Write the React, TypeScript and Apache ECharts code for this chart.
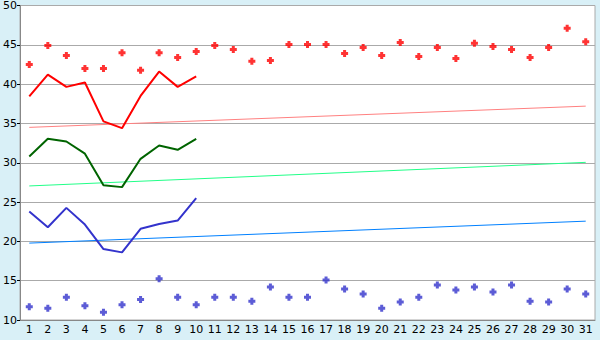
import React, { useEffect, useRef } from "react";
import * as echarts from "echarts";

const days = Array.from({ length: 31 }, (_, i) => String(i + 1));

const redPoints = [42.5, 44.9, 43.65, 42.0, 42.0, 44.0, 41.75, 44.0, 43.4, 44.15, 44.9, 44.4, 42.9, 43.0, 45.05, 45.05, 45.05, 43.9, 44.65, 43.65, 45.3, 43.5, 44.65, 43.25, 45.2, 44.8, 44.4, 43.4, 44.65, 47.1, 45.4];
const bluePoints = [11.7, 11.5, 12.9, 11.8, 11.0, 11.95, 12.6, 15.25, 12.9, 11.95, 12.9, 12.9, 12.4, 14.2, 12.9, 12.9, 15.1, 13.95, 13.3, 11.5, 12.3, 12.9, 14.45, 13.8, 14.2, 13.55, 14.45, 12.4, 12.3, 13.95, 13.3];
const redLine = [38.45, 41.2, 39.65, 40.2, 35.27, 34.4, 38.5, 41.6, 39.65, 41.0];
const greenLine = [30.8, 33.05, 32.7, 31.15, 27.14, 26.9, 30.5, 32.2, 31.65, 33.05];
const blueLine = [23.8, 21.8, 24.26, 22.14, 19.02, 18.6, 21.6, 22.2, 22.65, 25.5];
const redTrend = [34.5, 37.2];
const greenTrend = [27.05, 30.05];
const blueTrend = [19.78, 22.57];
const yTicks = { min: 10, max: 50, interval: 5 };

const plus = "path://M2,0H5V2H7V5H5V7H2V5H0V2H2Z";

export default function App() {
  const ref = useRef<HTMLDivElement>(null);
  useEffect(() => {
    document.body.style.margin = "0";
    const chart = echarts.init(ref.current!, undefined, { renderer: "svg" });
    const font = "Verdana, 'DejaVu Sans', sans-serif";
    const trend = (vals: number[], color: string) => ({
      type: "line",
      data: [[0, vals[0]], [days.length - 1, vals[1]]],
      symbol: "none",
      lineStyle: { color, width: 1 },
      z: 1,
    });
    const mainLine = (vals: number[], color: string) => ({
      type: "line",
      data: vals,
      symbol: "none",
      lineStyle: { color, width: 2 },
      z: 3,
    });
    const points = (vals: number[], color: string) => ({
      type: "scatter",
      data: vals,
      symbol: plus,
      symbolSize: 7,
      itemStyle: { color },
      z: 4,
    });
    chart.setOption({
      animation: false,
      backgroundColor: "#d9f0f7",
      grid: {
        left: 20,
        right: 5,
        top: 5,
        bottom: 20,
        show: true,
        backgroundColor: "#ffffff",
        borderColor: "#aaaaaa",
        borderWidth: 1,
      },
      xAxis: {
        type: "category",
        data: days,
        boundaryGap: true,
        axisLine: { lineStyle: { color: "#888888" } },
        axisTick: { alignWithLabel: true, length: 5, lineStyle: { color: "#000" } },
        axisLabel: { color: "#000", fontFamily: font, fontSize: 11, margin: 4, interval: 0 },
      },
      yAxis: {
        type: "value",
        min: yTicks.min,
        max: yTicks.max,
        interval: yTicks.interval,
        axisLine: { show: true, lineStyle: { color: "#888888" } },
        axisTick: { show: true, length: 3, lineStyle: { color: "#000" } },
        axisLabel: { color: "#000", fontFamily: font, fontSize: 11, margin: 3 },
        splitLine: { lineStyle: { color: "#aaaaaa" } },
      },
      series: [
        trend(redTrend, "#ff8080"),
        trend(greenTrend, "#22ff88"),
        trend(blueTrend, "#0080ff"),
        mainLine(redLine, "#ff0000"),
        mainLine(greenLine, "#006400"),
        mainLine(blueLine, "#3333cc"),
        points(redPoints, "#ff0000"),
        points(bluePoints, "#3333cc"),
      ],
    });
    return () => chart.dispose();
  }, []);
  return <div ref={ref} style={{ width: 600, height: 340 }} />;
}
